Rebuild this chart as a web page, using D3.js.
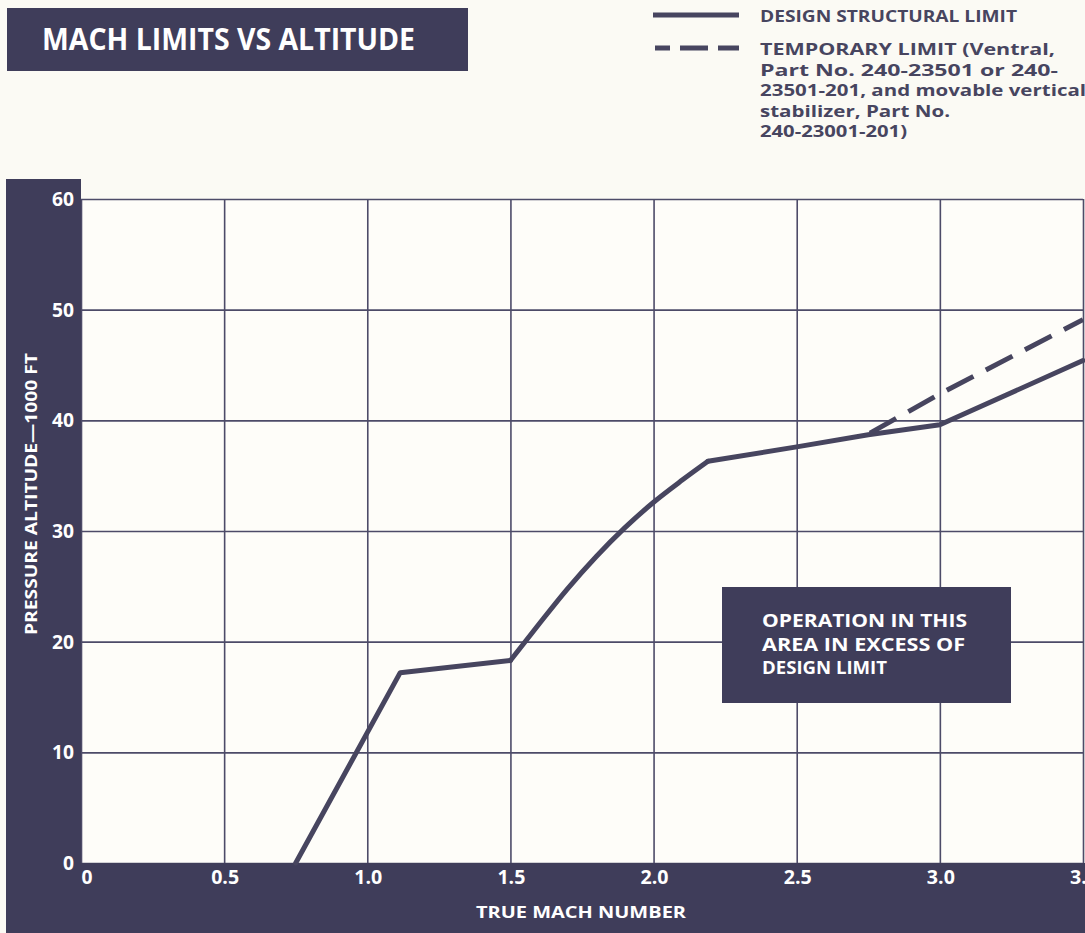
<!DOCTYPE html>
<html>
<head>
<meta charset="utf-8">
<script src="https://cdn.jsdelivr.net/npm/d3@7/dist/d3.min.js"></script>
<style>
  html, body { margin: 0; padding: 0; background: #fbfaf4; }
  svg { display: block; }
  text { font-family: "Open Sans", "Liberation Sans", Arial, sans-serif; font-weight: 700; }
</style>
</head>
<body>
<svg id="chart" width="1085" height="933"></svg>
<script>
// ---- Data ----
const xTicks = [0, 0.5, 1.0, 1.5, 2.0, 2.5, 3.0, 3.5];
const xTickLabels = ["0", "0.5", "1.0", "1.5", "2.0", "2.5", "3.0", "3.5"];
const yTicks = [0, 10, 20, 30, 40, 50, 60];
const yTickLabels = ["0", "10", "20", "30", "40", "50", "60"];

// Design structural limit (true Mach number vs pressure altitude, 1000 ft)
const designMach = [0.75, 1.115, 1.5, 1.6, 1.7, 1.8, 1.9, 2.0, 2.1, 2.19, 2.5, 2.75, 3.0, 3.5];
const designAlt  = [0, 17.2, 18.3, 21.6, 24.8, 27.7, 30.3, 32.6, 34.6, 36.3, 37.6, 38.7, 39.6, 45.4];

// Temporary limit
const tempMach = [2.75, 3.0, 3.5];
const tempAlt  = [38.75, 42.4, 49.1];

const title = "MACH LIMITS VS ALTITUDE";
const xTitle = "TRUE MACH NUMBER";
const yTitle = "PRESSURE ALTITUDE\u20141000 FT";
const legendDesign = "DESIGN STRUCTURAL LIMIT";
const legendTemp = ["TEMPORARY LIMIT (Ventral,", "Part No. 240-23501 or 240-", "23501-201, and movable vertical", "stabilizer, Part No.", "240-23001-201)"];
const noteLines = ["OPERATION  IN THIS", "AREA IN EXCESS OF", "DESIGN LIMIT"];

// ---- Drawing ----
const navy = "#3f3d5a";
const ink = "#47455f";
const svg = d3.select("#chart");

const x = d3.scaleLinear().domain([0, 3.5]).range([81, 1083]);
const y = d3.scaleLinear().domain([0, 60]).range([863, 199]);

// plot background
svg.append("rect").attr("x", x(0)).attr("y", y(60))
  .attr("width", x(3.5) - x(0)).attr("height", y(0) - y(60)).attr("fill", "#fefdf9");

// grid
const gx = d3.axisBottom(x).tickValues(xTicks).tickSize(-(y(0) - y(60))).tickFormat("");
const gy = d3.axisLeft(y).tickValues(yTicks).tickSize(-(x(3.5) - x(0))).tickFormat("");
const gridX = svg.append("g").attr("transform", `translate(0,${y(0)})`).call(gx);
const gridY = svg.append("g").attr("transform", `translate(${x(0)},0)`).call(gy);
[gridX, gridY].forEach(g => {
  g.select(".domain").remove();
  g.selectAll(".tick line").attr("stroke", "#4d4b68").attr("stroke-width", 1.6);
});

// axis bands
svg.append("rect").attr("x", 6).attr("y", 179).attr("width", x(0) - 6).attr("height", 933 - 179).attr("fill", navy);
svg.append("rect").attr("x", 6).attr("y", y(0)).attr("width", 1085 - 6).attr("height", 933 - y(0)).attr("fill", navy);

// tick labels
svg.append("g").selectAll("text").data(yTicks).join("text")
  .attr("x", 74).attr("y", d => y(d) + 7)
  .attr("text-anchor", "end").attr("fill", "#ffffff").attr("font-size", 19)
  .attr("textLength", d => d === 0 ? 11 : 22).attr("lengthAdjust", "spacingAndGlyphs")
  .text((d, i) => yTickLabels[i]);

svg.append("g").selectAll("text").data(xTicks).join("text")
  .attr("x", d => x(d) + (d === 0 ? 6 : 1)).attr("y", 884)
  .attr("text-anchor", "middle").attr("fill", "#ffffff").attr("font-size", 19)
  .attr("textLength", d => d === 0 ? 11 : 28).attr("lengthAdjust", "spacingAndGlyphs")
  .text((d, i) => xTickLabels[i]);

// axis titles
svg.append("text").attr("x", 581).attr("y", 918).attr("text-anchor", "middle")
  .attr("fill", "#ffffff").attr("font-size", 16)
  .attr("textLength", 210).attr("lengthAdjust", "spacingAndGlyphs")
  .text(xTitle);
svg.append("text").attr("transform", "translate(37,494) rotate(-90)").attr("text-anchor", "middle")
  .attr("fill", "#ffffff").attr("font-size", 16)
  .attr("textLength", 282).attr("lengthAdjust", "spacingAndGlyphs")
  .text(yTitle);

// lines: straight segments below M 1.5 and above M 2.19, smooth curve between
const pts = designMach.map((m, i) => [m, designAlt[i]]);
const lineStraight = d3.line().x(d => x(d[0])).y(d => y(d[1]));
const lineSmooth = d3.line().x(d => x(d[0])).y(d => y(d[1])).curve(d3.curveMonotoneX);
const i15 = designMach.indexOf(1.5), i22 = designMach.indexOf(2.19);
const parts = [
  [pts.slice(0, i15 + 1), lineStraight],
  [pts.slice(i15, i22 + 1), lineSmooth],
  [pts.slice(i22), lineStraight]
];
parts.forEach(([d, gen]) => {
  svg.append("path").datum(d).attr("d", gen).attr("fill", "none")
    .attr("stroke", ink).attr("stroke-width", 5)
    .attr("stroke-linejoin", "round").attr("stroke-linecap", "round");
});
svg.append("path").datum(tempMach.map((m, i) => [m, tempAlt[i]]))
  .attr("d", lineStraight).attr("fill", "none").attr("stroke", ink).attr("stroke-width", 5)
  .attr("stroke-dasharray", "30,14").attr("stroke-dashoffset", -2);

// annotation box
svg.append("rect").attr("x", 722).attr("y", 587).attr("width", 289).attr("height", 116).attr("fill", navy);
svg.append("g").selectAll("text").data(noteLines).join("text")
  .attr("x", 762).attr("y", (d, i) => 627 + i * 23.5)
  .attr("fill", "#ffffff").attr("font-size", 17)
  .attr("textLength", (d, i) => [205, 203, 125][i]).attr("lengthAdjust", "spacingAndGlyphs")
  .text(d => d);

// title
svg.append("rect").attr("x", 7).attr("y", 8).attr("width", 461).attr("height", 63).attr("fill", navy);
svg.append("text").attr("x", 42).attr("y", 50).attr("fill", "#ffffff")
  .attr("font-size", 30).attr("font-weight", 800)
  .attr("textLength", 373).attr("lengthAdjust", "spacingAndGlyphs")
  .text(title);

// legend
svg.append("line").attr("x1", 653).attr("x2", 739).attr("y1", 15).attr("y2", 15)
  .attr("stroke", ink).attr("stroke-width", 5);
svg.append("line").attr("x1", 655).attr("x2", 739).attr("y1", 48).attr("y2", 48)
  .attr("stroke", ink).attr("stroke-width", 5).attr("stroke-dasharray", "15,10,28,10,21,10");
svg.append("text").attr("x", 760).attr("y", 22).attr("fill", ink).attr("font-size", 16)
  .attr("textLength", 257).attr("lengthAdjust", "spacingAndGlyphs").text(legendDesign);
svg.append("g").selectAll("text").data(legendTemp).join("text")
  .attr("x", 760).attr("y", (d, i) => 55 + i * 20.6)
  .attr("fill", ink).attr("font-size", 16)
  .attr("textLength", (d, i) => [295, 298, 326, 190, 147][i]).attr("lengthAdjust", "spacingAndGlyphs")
  .text(d => d);
</script>
</body>
</html>
